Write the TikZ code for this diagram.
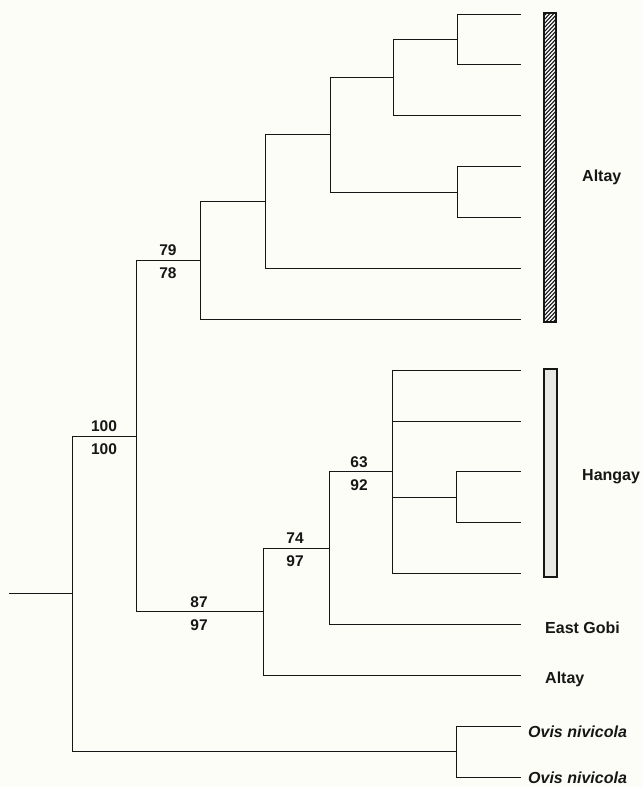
\documentclass[tikz,border=0pt]{standalone}
\usepackage{fontspec}
\setmainfont{Liberation Sans}
\usetikzlibrary{calc}
\definecolor{paper}{RGB}{253,253,247}
\definecolor{ink}{RGB}{22,22,22}
\definecolor{barfill}{RGB}{232,232,229}
\begin{document}
\begin{tikzpicture}[x=1pt,y=-1pt,
  branch/.style={draw=ink, line width=1pt},
  lab/.style={font=\fontsize{15.5}{18}\selectfont\bfseries, text=ink, inner sep=0pt, anchor=base},
  taxon/.style={font=\fontsize{16}{19}\selectfont\bfseries, text=ink, inner sep=0pt, anchor=base west},
  barline/.style={draw=ink, line width=1.6pt},
  hatchline/.style={draw=ink, line width=1.1pt}]
\fill[paper] (0,0) rectangle (642,787);
\useasboundingbox (0,0) rectangle (642,787);

% leaves
\coordinate (l0) at (521,14.0);
\coordinate (l1) at (521,64.9);
\coordinate (l2) at (521,115.7);
\coordinate (l3) at (521,166.6);
\coordinate (l4) at (521,217.5);
\coordinate (l5) at (521,268.4);
\coordinate (l6) at (521,319.2);
\coordinate (l7) at (521,370.1);
\coordinate (l8) at (521,421.0);
\coordinate (l9) at (521,471.8);
\coordinate (l10) at (521,522.7);
\coordinate (l11) at (521,573.6);
\coordinate (l12) at (521,624.4);
\coordinate (l13) at (521,675.3);
\coordinate (l14) at (521,726.2);
\coordinate (l15) at (521,777.0);

% internal nodes
\coordinate (G) at (457,39.5);
\coordinate (F) at (393,77.6);
\coordinate (H) at (457,192.0);
\coordinate (E) at (330,134.8);
\coordinate (D) at (265,201.6);
\coordinate (C) at (200,260.4);
\coordinate (S) at (456,497.3);
\coordinate (N63) at (392,471.8);
\coordinate (N74) at (329,548.1);
\coordinate (N87) at (263,611.7);
\coordinate (B) at (136,436.0);
\coordinate (O) at (456,751.6);
\coordinate (A) at (72,593.8);
\coordinate (R) at (9,593.8);

% branches
\draw[branch] (R) -- (A);
\draw[branch] (A) |- (B);
\draw[branch] (A) |- (O);
\draw[branch] (B) |- (C);
\draw[branch] (B) |- (N87);
\draw[branch] (C) |- (D);
\draw[branch] (C) |- (l6);
\draw[branch] (D) |- (E);
\draw[branch] (D) |- (l5);
\draw[branch] (E) |- (F);
\draw[branch] (E) |- (H);
\draw[branch] (F) |- (G);
\draw[branch] (F) |- (l2);
\draw[branch] (G) |- (l0);
\draw[branch] (G) |- (l1);
\draw[branch] (H) |- (l3);
\draw[branch] (H) |- (l4);
\draw[branch] (N87) |- (N74);
\draw[branch] (N87) |- (l13);
\draw[branch] (N74) |- (N63);
\draw[branch] (N74) |- (l12);
\draw[branch] (N63) |- (l7);
\draw[branch] (N63) |- (l8);
\draw[branch] (N63) |- (S);
\draw[branch] (N63) |- (l11);
\draw[branch] (S) |- (l9);
\draw[branch] (S) |- (l10);
\draw[branch] (O) |- (l14);
\draw[branch] (O) |- (l15);

% support values
\node[lab] (b100a) at (104,431) {100};
\node[lab] (b100b) at (104,454) {100};
\node[lab] (b79a) at (168,255) {79};
\node[lab] (b79b) at (168,278) {78};
\node[lab] (b87a) at (199,607) {87};
\node[lab] (b87b) at (199,630) {97};
\node[lab] (b74a) at (295,543) {74};
\node[lab] (b74b) at (295,566) {97};
\node[lab] (b63a) at (359,467) {63};
\node[lab] (b63b) at (359,490) {92};

% hatched Altay bar
\begin{scope}
  \clip (544,13) rectangle (556,322);
  \fill[white] (544,13) rectangle (556,322);
  \foreach \k in {0,...,82} {
    \draw[hatchline] (543,{13+\k*4}) -- (557,{13+\k*4-15});
  }
\end{scope}
\draw[barline] (544,13) rectangle (556,322);

% Hangay bar
\draw[barline, fill=barfill] (544,369) rectangle (557,577);

% taxon labels
\node[taxon] (tAltay1) at (582,181) {Altay};
\node[taxon] (tHangay) at (582,480) {Hangay};
\node[taxon] (tGobi) at (545,633) {East Gobi};
\node[taxon] (tAltay2) at (545,683) {Altay};
\node[taxon] (tOvis1) at (528,737) {\itshape Ovis nivicola};
\node[taxon] (tOvis2) at (528,783) {\itshape Ovis nivicola};
\end{tikzpicture}
\end{document}
